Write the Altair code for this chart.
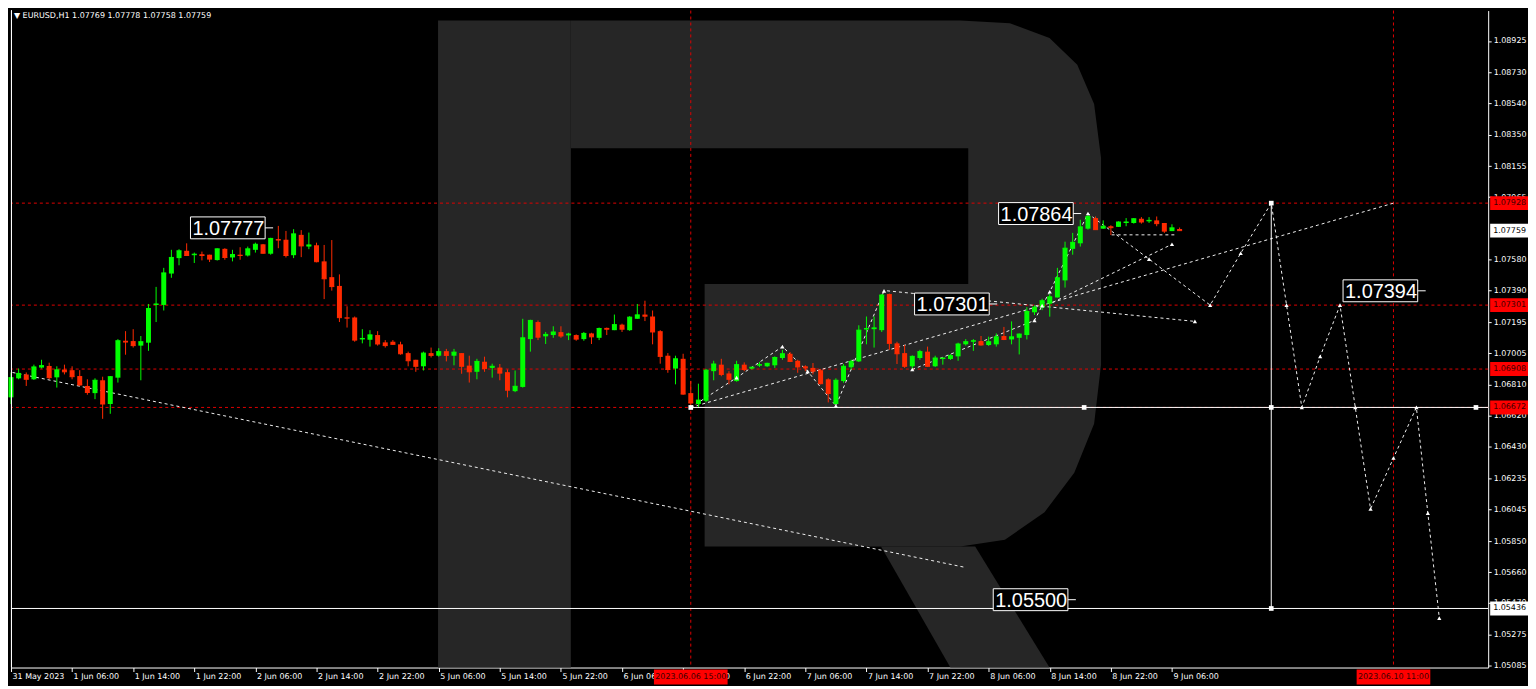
import altair as alt
import pandas as pd

W, H = 1484, 660
X_MIN, X_MAX = 0, 193.4
P_MIN, P_MAX = 1.05073, 1.09112

GREEN = "#00ff00"
RED = "#ff2a00"
LEVEL_RED = "#e00000"
LOGO = "#262626"

# ---------------- candles (one per hour, bar 0 = 31 May 22:00) ----------------
OPEN = [1.06734,1.06851,1.06875,1.06845,1.06917,1.06927,1.06857,1.06905,1.06901,1.06865,
        1.06804,1.06760,1.06839,1.06693,1.06855,1.07082,1.07080,1.07052,1.07070,1.07302,
        1.07302,1.07495,1.07590,1.07635,1.07608,1.07614,1.07611,1.07578,1.07647,1.07594,
        1.07611,1.07606,1.07641,1.07675,1.07617,1.07707,1.07703,1.07608,1.07733,1.07661,
        1.07669,1.07570,1.07473,1.07419,1.07225,1.07225,1.07090,1.07088,1.07117,1.07072,
        1.07076,1.07060,1.07006,1.06965,1.06925,1.07006,1.06990,1.07018,1.06990,1.07006,
        1.06929,1.06891,1.06953,1.06915,1.06917,1.06889,1.06772,1.06798,1.07092,1.07197,
        1.07109,1.07117,1.07135,1.07115,1.07117,1.07092,1.07127,1.07100,1.07161,1.07147,
        1.07181,1.07147,1.07217,1.07243,1.07231,1.07141,1.06990,1.06911,1.06971,1.06760,
        1.06693,1.06713,1.06895,1.06935,1.06881,1.06834,1.06935,1.06911,1.06929,1.06925,
        1.06931,1.06976,1.07002,1.06959,1.06925,1.06915,1.06901,1.06845,1.06693,1.06834,
        1.06919,1.06955,1.07151,1.07153,1.07147,1.07369,1.07066,1.07006,1.06925,1.06976,
        1.07015,1.06925,1.06970,1.06970,1.06986,1.07060,1.07076,1.07080,1.07056,1.07060,
        1.07111,1.07090,1.07100,1.07117,1.07257,1.07286,1.07310,1.07348,1.07453,1.07647,
        1.07681,1.07771,1.07836,1.07771,1.07786,1.07782,1.07806,1.07806,1.07832,1.07816,
        1.07822,1.07806,1.07756,1.07769]
HIGH = [1.06887,1.06911,1.06887,1.06935,1.06965,1.06947,1.06925,1.06935,1.06925,1.06901,
        1.06845,1.06851,1.06861,1.06865,1.07092,1.07141,1.07153,1.07111,1.07308,1.07413,
        1.07530,1.07641,1.07645,1.07681,1.07624,1.07630,1.07611,1.07650,1.07651,1.07641,
        1.07657,1.07661,1.07685,1.07677,1.07715,1.07788,1.07757,1.07768,1.07762,1.07747,
        1.07685,1.07671,1.07701,1.07490,1.07294,1.07231,1.07153,1.07147,1.07141,1.07086,
        1.07086,1.07076,1.07015,1.06965,1.07015,1.07040,1.07036,1.07032,1.07032,1.07006,
        1.06990,1.06971,1.06984,1.06941,1.06939,1.06905,1.06899,1.07217,1.07211,1.07207,
        1.07136,1.07171,1.07171,1.07131,1.07121,1.07136,1.07131,1.07163,1.07163,1.07243,
        1.07187,1.07233,1.07308,1.07328,1.07268,1.07147,1.07006,1.06990,1.07002,1.06834,
        1.06818,1.06909,1.06959,1.06971,1.06895,1.06959,1.06949,1.06923,1.06951,1.06947,
        1.06986,1.07026,1.07012,1.06965,1.06931,1.06945,1.06909,1.06851,1.06851,1.06939,
        1.06965,1.07177,1.07231,1.07231,1.07369,1.07372,1.07076,1.07056,1.06992,1.07026,
        1.07046,1.06990,1.06976,1.07000,1.07070,1.07092,1.07092,1.07111,1.07107,1.07127,
        1.07167,1.07201,1.07127,1.07288,1.07300,1.07340,1.07370,1.07530,1.07691,1.07745,
        1.07826,1.07864,1.07846,1.07822,1.07792,1.07816,1.07836,1.07836,1.07842,1.07842,
        1.07846,1.07806,1.07798,1.07778]
LOW = [1.06693,1.06845,1.06804,1.06841,1.06911,1.06845,1.06794,1.06875,1.06845,1.06804,
       1.06750,1.06723,1.06602,1.06633,1.06825,1.06996,1.07040,1.06839,1.07020,1.07197,
       1.07268,1.07469,1.07546,1.07606,1.07560,1.07576,1.07566,1.07575,1.07580,1.07570,
       1.07580,1.07600,1.07624,1.07617,1.07611,1.07651,1.07594,1.07590,1.07596,1.07645,
       1.07564,1.07338,1.07390,1.07197,1.07163,1.07076,1.07066,1.07046,1.07052,1.07040,
       1.07056,1.06996,1.06925,1.06891,1.06899,1.06979,1.06984,1.06955,1.06931,1.06879,
       1.06825,1.06845,1.06891,1.06855,1.06839,1.06734,1.06766,1.06794,1.07015,1.07086,
       1.07062,1.07100,1.07100,1.07086,1.07082,1.07082,1.07062,1.07086,1.07117,1.07147,
       1.07136,1.07143,1.07217,1.07203,1.07060,1.06941,1.06885,1.06814,1.06750,1.06672,
       1.06673,1.06704,1.06839,1.06864,1.06814,1.06830,1.06895,1.06905,1.06921,1.06921,
       1.06915,1.06965,1.06951,1.06885,1.06895,1.06875,1.06814,1.06703,1.06689,1.06824,
       1.06905,1.06951,1.07060,1.07040,1.07136,1.07026,1.06939,1.06915,1.06905,1.06965,
       1.06921,1.06921,1.06935,1.06964,1.06959,1.07052,1.07020,1.07052,1.07050,1.07046,
       1.07086,1.07060,1.06998,1.07090,1.07240,1.07270,1.07230,1.07348,1.07409,1.07611,
       1.07661,1.07765,1.07765,1.07771,1.07732,1.07782,1.07786,1.07802,1.07802,1.07806,
       1.07786,1.07745,1.07756,1.07758]
CLOSE = [1.06855,1.06881,1.06845,1.06921,1.06929,1.06855,1.06903,1.06891,1.06861,1.06810,
         1.06764,1.06839,1.06693,1.06861,1.07082,1.07074,1.07052,1.07076,1.07280,1.07308,
         1.07499,1.07594,1.07635,1.07606,1.07614,1.07606,1.07584,1.07647,1.07594,1.07612,
         1.07606,1.07647,1.07675,1.07620,1.07711,1.07701,1.07606,1.07739,1.07665,1.07671,
         1.07568,1.07463,1.07415,1.07224,1.07221,1.07086,1.07096,1.07118,1.07062,1.07052,
         1.07060,1.07002,1.06959,1.06925,1.07006,1.06992,1.07015,1.06992,1.07012,1.06925,
         1.06891,1.06955,1.06911,1.06925,1.06883,1.06778,1.06802,1.07100,1.07207,1.07104,
         1.07121,1.07136,1.07111,1.07123,1.07092,1.07127,1.07106,1.07157,1.07153,1.07181,
         1.07153,1.07227,1.07241,1.07233,1.07136,1.06986,1.06905,1.06971,1.06754,1.06699,
         1.06717,1.06901,1.06939,1.06875,1.06845,1.06935,1.06905,1.06919,1.06935,1.06943,
         1.06979,1.07002,1.06955,1.06921,1.06915,1.06895,1.06818,1.06758,1.06839,1.06925,
         1.06955,1.07147,1.07157,1.07161,1.07363,1.07066,1.07002,1.06925,1.06986,1.07015,
         1.06925,1.06976,1.06976,1.06990,1.07062,1.07076,1.07082,1.07056,1.07076,1.07106,
         1.07090,1.07106,1.07123,1.07262,1.07288,1.07328,1.07352,1.07469,1.07651,1.07687,
         1.07782,1.07846,1.07765,1.07786,1.07777,1.07812,1.07812,1.07832,1.07812,1.07822,
         1.07802,1.07756,1.07776,1.07759]

X_TICK_LABELS = ["31 May 2023", "1 Jun 06:00", "1 Jun 14:00", "1 Jun 22:00", "2 Jun 06:00",
                 "2 Jun 14:00", "2 Jun 22:00", "5 Jun 06:00", "5 Jun 14:00", "5 Jun 22:00",
                 "6 Jun 06:00", "6 Jun 14:00", "6 Jun 22:00", "7 Jun 06:00", "7 Jun 14:00",
                 "7 Jun 22:00", "8 Jun 06:00", "8 Jun 14:00", "8 Jun 22:00", "9 Jun 06:00"]
Y_TICKS = [1.08925, 1.08730, 1.08540, 1.08350, 1.08155, 1.07965, 1.07580, 1.07390, 1.07195,
           1.07005, 1.06810, 1.06620, 1.06430, 1.06235, 1.06045, 1.05850, 1.05660, 1.05470,
           1.05275, 1.05085]

# levels and crosshairs
LEVEL_PRICES = [1.07928, 1.07301, 1.06908, 1.06672]
CROSS_BARS = [89, 181]
CROSS_LABELS = ["2023.06.06 15:00", "2023.06.10 11:00"]
WHITE_TAGS = [1.07759, 1.05436]

# forecast drawings (bar index, price)
TREND_I = [0.2, 124.9];          TREND_P = [1.06887, 1.05689]
WAVE_I = [89, 95, 101, 104.3, 108, 114.3]
WAVE_P = [1.06672, 1.06855, 1.07046, 1.06894, 1.06682, 1.07389]
RAY_A_I = [89, 181];             RAY_A_P = [1.06672, 1.07928]
RAY_D_I = [114.7, 155];          RAY_D_P = [1.07389, 1.07201]
RAY_B_I = [136.4, 152];          RAY_B_P = [1.07318, 1.07675]
FLAT_I = [144.1, 152.6];         FLAT_P = [1.07733, 1.07733]
FC_I = [118, 134, 135, 136, 141, 149, 157, 161, 165, 167, 169, 171.4, 174, 176, 178, 181, 184, 185.5, 187]
FC_P = [1.06905, 1.07207, 1.07298, 1.07383, 1.07864, 1.07584, 1.07301, 1.07620, 1.07928, 1.07301,
        1.06672, 1.06985, 1.07301, 1.06672, 1.06048, 1.06361, 1.06672, 1.06022, 1.05377]

SOLID_H_I = [89, 0];  SOLID_H_I2 = [193.4, 193.4];  SOLID_H_P = [1.06672, 1.05436]
SOLID_V_I = [165];    SOLID_V_P = [1.05436];        SOLID_V_P2 = [1.07928]
SQ_I = [89, 140.5, 165, 165, 165, 191.8]
SQ_P = [1.06672, 1.06672, 1.07928, 1.06672, 1.05436, 1.06672]

ANNOT_TEXT = ["1.07777", "1.07864", "1.07301", "1.07394", "1.05500"]
ANNOT_I = [23.5, 129.3, 118.3, 174.4, 128.6]
ANNOT_P = [1.07776, 1.07864, 1.07308, 1.07389, 1.05490]

HEADER = "\u25BC EURUSD,H1  1.07769 1.07778 1.07758 1.07759"

# watermark "R" outline (screen reference units, converted to bar/price)
def to_i(x):
    return (x - 2.1) / 7.707

def to_p(y):
    return 1.09112 - y * 0.00006047

LOGO_PARTS = {
    "stem": [(433, 10), (567, 10), (567, 668), (433, 668)],
    "bowl": [(567, 10), (960, 10), (1010, 13), (1050, 28), (1078, 55), (1095, 95), (1102, 150),
             (1102, 360), (1095, 420), (1075, 470), (1045, 510), (1005, 538), (960, 545),
             (702, 545), (702, 278), (968, 278), (968, 140), (567, 140)],
    "leg": [(880, 545), (975, 545), (1050, 668), (950, 668)],
}

# ---------------- data frames ----------------
candles = pd.DataFrame({"i": list(range(len(OPEN))), "o": OPEN, "h": HIGH, "l": LOW, "c": CLOSE})
candles["dir"] = ["up" if c >= o else "down" for o, c in zip(OPEN, CLOSE)]

logo_rows = []
for name, pts in LOGO_PARTS.items():
    for k, (x, y) in enumerate(pts):
        logo_rows.append({"part": name, "k": k, "i": to_i(x), "p": to_p(y)})
logo_df = pd.DataFrame(logo_rows)

def path_rows(name, xs, ps):
    return [{"line": name, "k": k, "i": x, "p": p} for k, (x, p) in enumerate(zip(xs, ps))]

dash_df = pd.DataFrame(
    path_rows("trend", TREND_I, TREND_P) + path_rows("wave", WAVE_I, WAVE_P)
    + path_rows("rayA", RAY_A_I, RAY_A_P) + path_rows("rayD", RAY_D_I, RAY_D_P)
    + path_rows("rayB", RAY_B_I, RAY_B_P) + path_rows("flat", FLAT_I, FLAT_P)
    + path_rows("fc", FC_I, FC_P))
marker_df = pd.DataFrame({"i": WAVE_I + FC_I + [RAY_D_I[1], RAY_B_I[1]],
                          "p": WAVE_P + FC_P + [RAY_D_P[1], RAY_B_P[1]]})

# ---------------- scales & axes ----------------
XS = alt.Scale(domain=[X_MIN, X_MAX], nice=False, zero=False)
YS = alt.Scale(domain=[P_MIN, P_MAX], nice=False, zero=False)
label_expr = "[" + ",".join("'%s'" % s for s in X_TICK_LABELS) + "][round(datum.value/8)]"
XAX = alt.Axis(orient="bottom", values=list(range(0, 8 * len(X_TICK_LABELS), 8)), labelExpr=label_expr,
               labelAlign="left", labelFont="DejaVu Sans", labelFontSize=8, labelColor="white",
               tickColor="white", domainColor="white", tickSize=4, labelPadding=1, grid=False,
               title=None, labelOverlap=False, labelFlush=False, labelBound=False, labelOffset=1)
YAX = alt.Axis(orient="right", values=Y_TICKS, format=".5f", labelFont="DejaVu Sans", labelFontSize=8,
               labelColor="white", tickColor="white", domainColor="white", tickSize=3, labelPadding=2,
               grid=False, title=None, labelOverlap=False, labelFlush=False, labelBaseline="middle")

def X(f="i"):
    return alt.X(f + ":Q", scale=XS, axis=XAX)

def Y(f="p"):
    return alt.Y(f + ":Q", scale=YS, axis=YAX)

color = alt.Color("dir:N", scale=alt.Scale(domain=["up", "down"], range=[GREEN, RED]), legend=None)

# ---------------- layers ----------------
logo = alt.Chart(logo_df).mark_line(fill=LOGO, strokeWidth=0, filled=True, color=LOGO).encode(
    x=X(), y=Y(), detail="part:N", order="k:Q")

lv_df = pd.DataFrame({"p": LEVEL_PRICES})
levels = alt.Chart(lv_df).mark_rule(color=LEVEL_RED, strokeDash=[3, 3], strokeWidth=1).encode(y=Y())
cr_df = pd.DataFrame({"i": CROSS_BARS, "t": CROSS_LABELS})
crosses = alt.Chart(cr_df).mark_rule(color=LEVEL_RED, strokeDash=[3, 3], strokeWidth=1).encode(x=X())

dashes = alt.Chart(dash_df).mark_line(color="#f0f0f0", strokeDash=[3, 3], strokeWidth=1).encode(
    x=X(), y=Y(), detail="line:N", order="k:Q")

wicks = alt.Chart(candles).mark_rule(strokeWidth=1).encode(x=X(), y=Y("l"), y2="h:Q", color=color)
bodies = alt.Chart(candles).mark_rect(xOffset=-2.5, x2Offset=2.5).encode(
    x=X(), x2="i:Q", y=Y("o"), y2="c:Q", color=color)
closes = alt.Chart(candles).mark_rule(xOffset=-2.5, x2Offset=2.5, strokeWidth=1).encode(
    x=X(), x2="i:Q", y=Y("c"), color=color)

sh_df = pd.DataFrame({"i": SOLID_H_I, "i2": SOLID_H_I2, "p": SOLID_H_P})
solid_h = alt.Chart(sh_df).mark_rule(color="white", strokeWidth=1).encode(x=X(), x2="i2:Q", y=Y())
sv_df = pd.DataFrame({"i": SOLID_V_I, "p": SOLID_V_P, "p2": SOLID_V_P2})
solid_v = alt.Chart(sv_df).mark_rule(color="white", strokeWidth=1).encode(x=X(), y=Y(), y2="p2:Q")
sq_df = pd.DataFrame({"i": SQ_I, "p": SQ_P})
squares = alt.Chart(sq_df).mark_point(shape="square", filled=True, color="white", size=22, opacity=1).encode(
    x=X(), y=Y())
markers = alt.Chart(marker_df).mark_point(shape="triangle-up", filled=True, color="white", size=18,
                                          opacity=1).encode(x=X(), y=Y())

an_df = pd.DataFrame({"i": ANNOT_I, "p": ANNOT_P, "t": ANNOT_TEXT})
an_box = alt.Chart(an_df).mark_rect(fill="black", stroke="white", strokeWidth=1, x2Offset=75,
                                    yOffset=-11, y2Offset=11).encode(x=X(), x2="i:Q", y=Y(), y2="p:Q")
an_tick = alt.Chart(an_df).mark_rule(color="white", strokeWidth=1, xOffset=75, x2Offset=83).encode(
    x=X(), x2="i:Q", y=Y())
an_text = alt.Chart(an_df).mark_text(align="left", baseline="middle", dx=2, dy=1, font="Liberation Sans",
                                     fontSize=20, color="white").encode(x=X(), y=Y(), text="t:N")

lvl_tag_df = pd.DataFrame({"p": LEVEL_PRICES, "t": ["%.5f" % v for v in LEVEL_PRICES]})
lvl_box = alt.Chart(lvl_tag_df).mark_rect(fill="#ff0000", yOffset=-7, y2Offset=7).encode(
    x=alt.value(W + 2), x2=alt.value(W + 40), y=Y(), y2="p:Q")
lvl_txt = alt.Chart(lvl_tag_df).mark_text(align="left", baseline="middle", font="DejaVu Sans", fontSize=8,
                                          color="#3a0000").encode(x=alt.value(W + 5), y=Y(), text="t:N")
wt_df = pd.DataFrame({"p": WHITE_TAGS, "t": ["%.5f" % v for v in WHITE_TAGS]})
wt_box = alt.Chart(wt_df).mark_rect(fill="white", yOffset=-7, y2Offset=7).encode(
    x=alt.value(W + 2), x2=alt.value(W + 40), y=Y(), y2="p:Q")
wt_txt = alt.Chart(wt_df).mark_text(align="left", baseline="middle", font="DejaVu Sans", fontSize=8,
                                    color="black").encode(x=alt.value(W + 5), y=Y(), text="t:N")

cr_box = alt.Chart(cr_df).mark_rect(fill="#ff0000", xOffset=-37, x2Offset=37).encode(
    x=X(), x2="i:Q", y=alt.value(H + 2), y2=alt.value(H + 17))
cr_txt = alt.Chart(cr_df).mark_text(align="center", baseline="middle", font="DejaVu Sans", fontSize=8,
                                    color="#3a0000").encode(x=X(), y=alt.value(H + 10), text="t:N")

left_edge = alt.Chart(lv_df).mark_rule(color="white", strokeWidth=1).encode(
    x=alt.value(0.5), y=alt.value(0), y2=alt.value(H))
header = alt.Chart(pd.DataFrame({"t": [HEADER]})).mark_text(
    align="left", baseline="middle", font="DejaVu Sans", fontSize=8, color="white").encode(
    x=alt.value(3), y=alt.value(5), text="t:N")

chart = alt.layer(
    logo, levels, crosses, dashes, wicks, bodies, closes, solid_h, solid_v, squares, markers,
    an_box, an_tick, an_text, lvl_box, lvl_txt, wt_box, wt_txt, cr_box, cr_txt, left_edge, header
).properties(width=W, height=H, background="black", padding=0).configure_view(stroke=None)

chart.save("out.html", embed_options={"renderer": "svg", "actions": False})
